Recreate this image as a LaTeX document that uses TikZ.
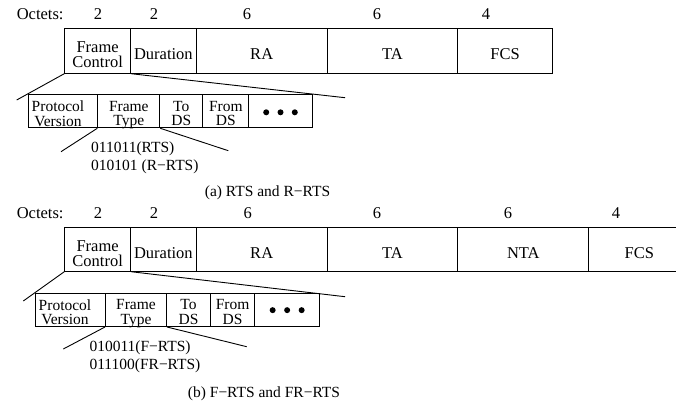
\documentclass[tikz,border=0pt]{standalone}
\usepackage{fontspec}
\setmainfont{Liberation Serif}
\begin{document}
\begin{tikzpicture}[x=1pt,y=-1pt,
  cell/.style={draw, line width=1pt, rectangle, inner sep=0pt, anchor=north west},
  big/.style={font=\fontsize{16.5}{15.5}\selectfont},
  small/.style={font=\fontsize{15.5}{14.8}\selectfont},
  mlbl/.style={big, align=center, inner sep=0pt, text depth=0pt},
  slbl/.style={small, align=center, inner sep=0pt, text depth=0pt},
  link/.style={line width=0.9pt},
  dotmark/.style={circle, fill, inner sep=0pt, minimum size=6pt}]
\useasboundingbox (0,0) rectangle (676,401);
\clip (0,0) rectangle (676,401);

% ---------------- (a) RTS and R-RTS ----------------
\node[big, anchor=base west] (octA) at (13.3,19.3) {Octets:};
\node[big, anchor=base] (nA1) at (98,19.3) {2};
\node[big, anchor=base] (nA2) at (154,19.3) {2};
\node[big, anchor=base] (nA3) at (247,19.3) {6};
\node[big, anchor=base] (nA4) at (377,19.3) {6};
\node[big, anchor=base] (nA5) at (486,19.3) {4};

\node[cell, minimum width=65.7pt, minimum height=44.4pt] (fcA) at (64.3,28.3) {};
\node[cell, minimum width=65.7pt, minimum height=44.4pt] (duA) at (130,28.3) {};
\node[cell, minimum width=131pt, minimum height=44.4pt] (raA) at (195.7,28.3) {};
\node[cell, minimum width=130.6pt, minimum height=44.4pt] (taA) at (326.7,28.3) {};
\node[cell, minimum width=94.7pt, minimum height=44.4pt] (fsA) at (457.3,28.3) {};
\node[mlbl, yshift=-3.5pt] (fcAt) at (fcA.center) {Frame\\Control};
\node[mlbl, yshift=-3.5pt] (duAt) at (duA.center) {Duration};
\node[mlbl, yshift=-3.5pt] (raAt) at (raA.center) {RA};
\node[mlbl, yshift=-3.5pt] (taAt) at (taA.center) {TA};
\node[mlbl, yshift=-3.5pt] (fsAt) at (fsA.center) {FCS};

\node[cell, minimum width=69.6pt, minimum height=33pt] (pvA) at (27.7,94.3) {};
\node[cell, minimum width=62pt, minimum height=33pt] (ftA) at (97.3,94.3) {};
\node[cell, minimum width=43pt, minimum height=33pt] (tdA) at (159.3,94.3) {};
\node[cell, minimum width=46pt, minimum height=33pt] (fdA) at (202.3,94.3) {};
\node[cell, minimum width=63.4pt, minimum height=33pt] (moA) at (248.3,94.3) {};
\node[slbl, xshift=-5pt, yshift=-2.2pt] (pvAt) at (pvA.center) {Protocol\\Version};
\node[slbl, yshift=-2.2pt] (ftAt) at (ftA.center) {Frame\\Type};
\node[slbl, yshift=-2.2pt] (tdAt) at (tdA.center) {To\\DS};
\node[slbl, yshift=-2.2pt] (fdAt) at (fdA.center) {From\\DS};
\node[dotmark, yshift=-1pt] (dA1) at ([xshift=-14.3pt]moA.center) {};
\node[dotmark, yshift=-1pt] (dA2) at (moA.center) {};
\node[dotmark, yshift=-1pt] (dA3) at ([xshift=14.3pt]moA.center) {};

\coordinate (zA1) at (16.7,100);
\coordinate (zA2) at (345,97.7);
\coordinate (zA3) at (61,151.7);
\coordinate (zA4) at (228.3,150.7);
\draw[link] (fcA.south west) -- (zA1);
\draw[link] (fcA.south east) -- (zA2);
\draw[link] (ftA.south west) -- (zA3);
\draw[link] (ftA.south east) -- (zA4);

\node[small, anchor=base west] (cA1) at (87.7,152.8) {011011(RTS)};
\node[small, anchor=base west] (cA2) at (87.7,170) {010101 (R−RTS)};
\node[small, anchor=base] (capA) at (267.5,196) {(a) RTS and R−RTS};

% ---------------- (b) F-RTS and FR-RTS ----------------
\node[big, anchor=base west] (octB) at (13.3,218.7) {Octets:};
\node[big, anchor=base] (nB1) at (98,218.7) {2};
\node[big, anchor=base] (nB2) at (154,218.7) {2};
\node[big, anchor=base] (nB3) at (247.7,218.7) {6};
\node[big, anchor=base] (nB4) at (377,218.7) {6};
\node[big, anchor=base] (nB5) at (508,218.7) {6};
\node[big, anchor=base] (nB6) at (616,218.7) {4};

\node[cell, minimum width=65.7pt, minimum height=43.4pt] (fcB) at (64.3,227.3) {};
\node[cell, minimum width=65.7pt, minimum height=43.4pt] (duB) at (130,227.3) {};
\node[cell, minimum width=131pt, minimum height=43.4pt] (raB) at (195.7,227.3) {};
\node[cell, minimum width=130.6pt, minimum height=43.4pt] (taB) at (326.7,227.3) {};
\node[cell, minimum width=131pt, minimum height=43.4pt] (ntB) at (457.3,227.3) {};
\node[cell, minimum width=101pt, minimum height=43.4pt] (fsB) at (588.3,227.3) {};
\node[mlbl, yshift=-4pt] (fcBt) at (fcB.center) {Frame\\Control};
\node[mlbl, yshift=-4pt] (duBt) at (duB.center) {Duration};
\node[mlbl, yshift=-4pt] (raBt) at (raB.center) {RA};
\node[mlbl, yshift=-4pt] (taBt) at (taB.center) {TA};
\node[mlbl, yshift=-4pt] (ntBt) at (ntB.center) {NTA};
\node[mlbl, yshift=-4pt] (fsBt) at (fsB.center) {FCS};

\node[cell, minimum width=70pt, minimum height=32.7pt] (pvB) at (35,293.3) {};
\node[cell, minimum width=61pt, minimum height=32.7pt] (ftB) at (105,293.3) {};
\node[cell, minimum width=44pt, minimum height=32.7pt] (tdB) at (166,293.3) {};
\node[cell, minimum width=44.3pt, minimum height=32.7pt] (fdB) at (210,293.3) {};
\node[cell, minimum width=64.7pt, minimum height=32.7pt] (moB) at (254.3,293.3) {};
\node[slbl, xshift=-5.5pt, yshift=-2pt] (pvBt) at (pvB.center) {Protocol\\Version};
\node[slbl, yshift=-2pt] (ftBt) at (ftB.center) {Frame\\Type};
\node[slbl, yshift=-2pt] (tdBt) at (tdB.center) {To\\DS};
\node[slbl, yshift=-2pt] (fdBt) at (fdB.center) {From\\DS};
\node[dotmark] (dB1) at ([xshift=-14.5pt]moB.center) {};
\node[dotmark] (dB2) at (moB.center) {};
\node[dotmark] (dB3) at ([xshift=14.5pt]moB.center) {};

\coordinate (zB1) at (23.3,301);
\coordinate (zB2) at (345,296.7);
\coordinate (zB3) at (63.3,349);
\coordinate (zB4) at (246.7,346.7);
\draw[link] (fcB.south west) -- (zB1);
\draw[link] (fcB.south east) -- (zB2);
\draw[link] (ftB.south west) -- (zB3);
\draw[link] (ftB.south east) -- (zB4);

\node[small, anchor=base west] (cB1) at (86,351.5) {010011(F−RTS)};
\node[small, anchor=base west] (cB2) at (86,369.5) {011100(FR−RTS)};
\node[small, anchor=base] (capB) at (264,397.5) {(b) F−RTS and FR−RTS};
\end{tikzpicture}
\end{document}
